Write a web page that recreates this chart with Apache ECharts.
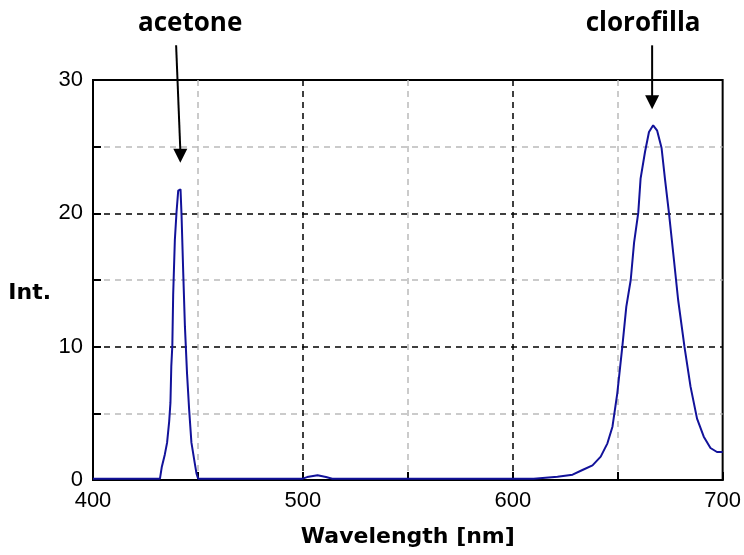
<!DOCTYPE html>
<html>
<head>
<meta charset="utf-8">
<script src="https://cdn.jsdelivr.net/npm/echarts@6/dist/echarts.min.js"></script>
<style>
html,body{margin:0;padding:0;background:#fff;}
#chart{width:744px;height:555px;}
</style>
</head>
<body>
<div id="chart"></div>
<script>
var wavelength = [400, 420, 431.9, 432.8, 434.2, 435.3, 436.3, 436.9, 437.3, 437.8, 438.2, 439, 439.8, 440.6, 441.7, 442.2, 443, 443.8, 444.8, 445.8, 446.9, 448.5, 449.3, 450.1, 480, 499.9, 502, 507, 511, 514, 540, 580, 610, 621.3, 628.5, 633.2, 638, 641.9, 645.1, 647.5, 649.8, 652.2, 654.1, 656.2, 657.8, 659.8, 660.9, 663, 664.9, 666.9, 668.8, 670.9, 672.5, 674.4, 676.8, 678.8, 681.8, 684.7, 687.8, 691, 694.2, 697.3, 700];
var intensity = [0.1, 0.1, 0.1, 1.0, 1.9, 2.8, 4.4, 5.8, 8.5, 10.1, 13.9, 18.0, 20.1, 21.7, 21.8, 19.8, 15.5, 11.5, 8.0, 5.3, 2.8, 1.25, 0.5, 0.1, 0.1, 0.1, 0.22, 0.35, 0.22, 0.1, 0.1, 0.1, 0.1, 0.25, 0.4, 0.75, 1.1, 1.75, 2.75, 4.0, 6.5, 10.0, 13.0, 15.0, 17.8, 20.05, 22.6, 24.6, 26.1, 26.6, 26.2, 24.9, 22.6, 20.05, 16.5, 13.5, 10.0, 7.0, 4.6, 3.25, 2.4, 2.1, 2.1];
var xTicks = [400, 500, 600, 700];
var yTicks = [0, 10, 20, 30];
var annotLabels = ['acetone', 'clorofilla'];
var annotTipX = [441.6, 666.4];
var annotTipY = [23.8, 27.8];
var annotTopX = [439.6, 666.4];
var annotTopY = [32.6, 32.6];

var points = wavelength.map(function (w, i) { return [w, intensity[i]]; });
var gridColors = ['transparent', '#bbbbbb', '#000', '#bbbbbb', '#000', '#bbbbbb', 'transparent'];

var chart = echarts.init(document.getElementById('chart'));
var option = {
  animation: false,
  backgroundColor: '#fff',
  grid: { left: 93, right: 20, top: 80, bottom: 75, show: true, borderColor: '#000', borderWidth: 2, backgroundColor: 'transparent' },
  xAxis: {
    type: 'value', min: 400, max: 700, interval: 50,
    name: 'Wavelength [nm]', nameLocation: 'middle', nameGap: 46,
    nameTextStyle: { fontFamily: 'DejaVu Sans', fontWeight: 'bold', fontSize: 22, color: '#000' },
    axisLine: { show: true, lineStyle: { color: '#000', width: 2 } },
    axisTick: { show: true, inside: true, length: 8, lineStyle: { color: '#000', width: 2 } },
    axisLabel: { fontFamily: 'Liberation Sans', fontSize: 22, color: '#000', margin: 10,
      formatter: function (v) { return xTicks.indexOf(v) >= 0 ? String(v) : ''; } },
    splitLine: { show: true, lineStyle: { color: gridColors, type: [6, 5], width: 1.5 } }
  },
  yAxis: {
    type: 'value', min: 0, max: 30, interval: 5,
    axisLine: { show: true, lineStyle: { color: '#000', width: 2 } },
    axisTick: { show: true, inside: true, length: 8, lineStyle: { color: '#000', width: 2 } },
    axisLabel: { fontFamily: 'Liberation Sans', fontSize: 22, color: '#000', margin: 10,
      formatter: function (v) { return yTicks.indexOf(v) >= 0 ? String(v) : ''; } },
    splitLine: { show: true, lineStyle: { color: gridColors, type: [6, 5], width: 1.5 } }
  },
  series: [{
    type: 'line', data: points, showSymbol: false, smooth: false,
    lineStyle: { color: '#12129a', width: 2 }, z: 3
  }]
};
chart.setOption(option);

// linear pixel mapping derived from the axes (allows positions above the plot)
var p00 = chart.convertToPixel({ gridIndex: 0 }, [400, 0]);
var p11 = chart.convertToPixel({ gridIndex: 0 }, [700, 30]);
function toPx(x, y) {
  return [p00[0] + (x - 400) / 300 * (p11[0] - p00[0]), p00[1] + y / 30 * (p11[1] - p00[1])];
}

var graphics = [];
for (var i = 0; i < annotLabels.length; i++) {
  var tipPt = toPx(annotTipX[i], annotTipY[i]);
  var topPt = toPx(annotTopX[i], annotTopY[i]);
  var headH = 14, headW = 7;
  graphics.push({
    type: 'line', silent: true, z: 10,
    shape: { x1: topPt[0], y1: topPt[1], x2: tipPt[0], y2: tipPt[1] - headH + 1 },
    style: { stroke: '#000', lineWidth: 2 }
  });
  graphics.push({
    type: 'polygon', silent: true, z: 10,
    shape: { points: [[tipPt[0] - headW, tipPt[1] - headH], [tipPt[0] + headW, tipPt[1] - headH], [tipPt[0], tipPt[1]]] },
    style: { fill: '#000' }
  });
  graphics.push({
    type: 'text', silent: true, z: 10,
    x: topPt[0] + (i === 0 ? 14 : -9), y: topPt[1] - 22,
    style: { text: annotLabels[i], font: 'bold 26px "Open Sans", "Liberation Sans", sans-serif', fill: '#000', align: 'center', verticalAlign: 'middle' }
  });
}
var intPt = toPx(400, 14);
graphics.push({
  type: 'text', silent: true, z: 10,
  x: intPt[0] - 42, y: intPt[1],
  style: { text: 'Int.', font: 'bold 22px "DejaVu Sans", sans-serif', fill: '#000', align: 'right', verticalAlign: 'middle' }
});
chart.setOption({ graphic: graphics });
</script>
</body>
</html>
